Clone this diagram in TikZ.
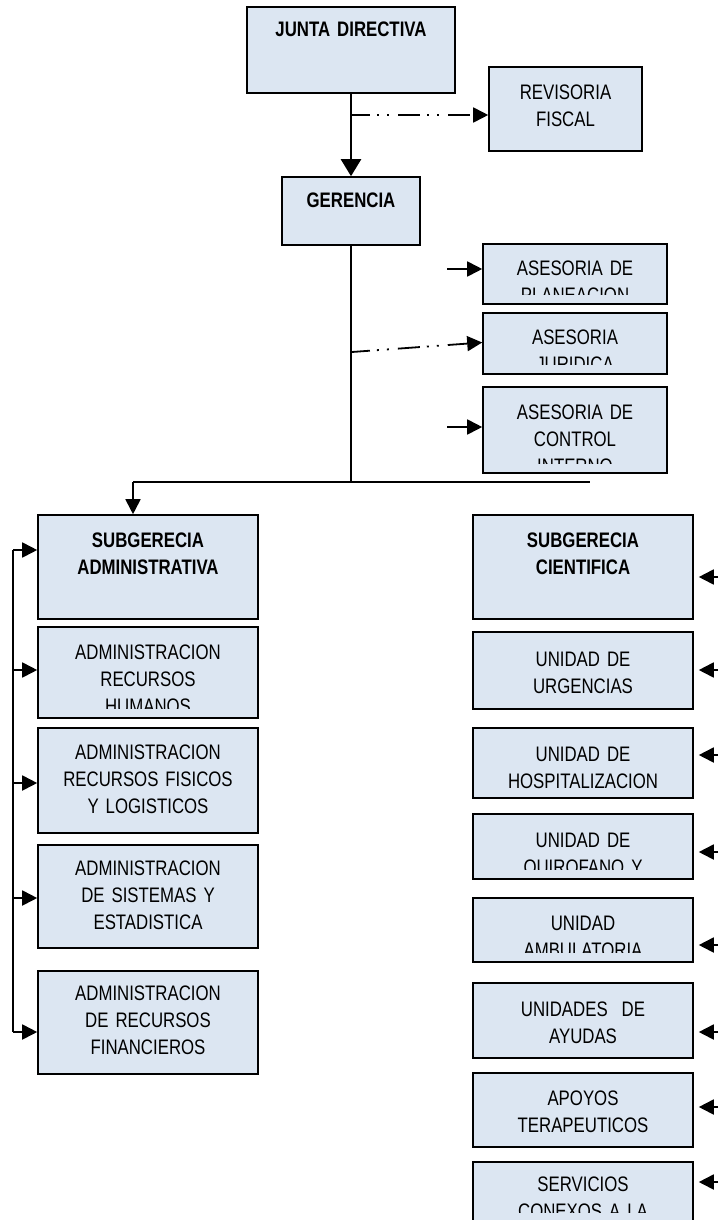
\documentclass[tikz,border=0pt]{standalone}
\usepackage{fontspec}
\setmainfont[FakeStretch=0.8]{Liberation Sans}
\usetikzlibrary{arrows.meta}
\definecolor{boxfill}{RGB}{220,230,242}

\tikzset{
  unit/.style={draw, fill=boxfill, line width=1.6pt, inner sep=0pt},
  lbl/.style={draw=none, fill=none, minimum width=0pt, minimum height=0pt,
    text width=210pt, align=center, anchor=base, inner sep=0pt,
    font=\fontsize{21}{27}\selectfont},
  txt/.style 2 args={path picture={
    \clip ([yshift=10pt]path picture bounding box.south west) rectangle (path picture bounding box.north east);
    \node[lbl] at ([yshift=-#1pt]path picture bounding box.north) {#2};}},
  link/.style={line width=1.8pt, -{Triangle[length=15pt,width=15pt]}},
  dashdotdot/.style={dash pattern=on 22pt off 7pt on 2pt off 8pt on 2pt off 9pt, dash phase=4pt},
}

\begin{document}
\begin{tikzpicture}[x=1pt, y=-1pt]
\useasboundingbox (0,0) rectangle (718,1220);

% direccion
\node[unit, minimum width=208, minimum height=86, txt={30}{\textbf{JUNTA DIRECTIVA}}] (junta) at (351,50) {};
\node[unit, minimum width=153, minimum height=84, txt={32.5}{REVISORIA\\FISCAL}] (revisoria) at (565.5,109) {};
\node[unit, minimum width=138, minimum height=68, txt={30.5}{\textbf{GERENCIA}}] (gerencia) at (351,211) {};

% asesorias
\node[unit, minimum width=184, minimum height=60, txt={31.5}{ASESORIA DE\\PLANEACION}] (planeacion) at (575,274) {};
\node[unit, minimum width=184, minimum height=61, txt={31.5}{ASESORIA\\JURIDICA}] (juridica) at (575,343.5) {};
\node[unit, minimum width=184, minimum height=86, txt={32.5}{ASESORIA DE\\CONTROL\\INTERNO}] (control) at (575,430) {};

% subgerencia administrativa
\node[unit, minimum width=220, minimum height=104, txt={32.5}{\bfseries SUBGERECIA\\ADMINISTRATIVA}] (subadm) at (148,567) {};
\node[unit, minimum width=220, minimum height=91, txt={32.5}{ADMINISTRACION\\RECURSOS\\HUMANOS}] (humanos) at (148,672.5) {};
\node[unit, minimum width=220, minimum height=105, txt={31}{ADMINISTRACION\\RECURSOS FISICOS\\Y LOGISTICOS}] (fisicos) at (148,780.5) {};
\node[unit, minimum width=220, minimum height=103, txt={30}{ADMINISTRACION\\DE SISTEMAS Y\\ESTADISTICA}] (sistemas) at (148,896.5) {};
\node[unit, minimum width=220, minimum height=103, txt={29}{ADMINISTRACION\\DE RECURSOS\\FINANCIEROS}] (financieros) at (148,1022.5) {};

% subgerencia cientifica
\node[unit, minimum width=220, minimum height=104, txt={32.5}{\bfseries SUBGERECIA\\CIENTIFICA}] (subcie) at (583,567) {};
\node[unit, minimum width=220, minimum height=77, txt={34.5}{UNIDAD DE\\URGENCIAS}] (urgencias) at (583,670.5) {};
\node[unit, minimum width=220, minimum height=70, txt={33.7}{UNIDAD DE\\HOSPITALIZACION}] (hosp) at (583,763) {};
\node[unit, minimum width=220, minimum height=65, txt={33}{UNIDAD DE\\QUIROFANO Y}] (quirofano) at (583,846.5) {};
\node[unit, minimum width=220, minimum height=64, txt={32}{UNIDAD\\AMBULATORIA}] (ambulatoria) at (583,930) {};
\node[unit, minimum width=220, minimum height=75, txt={33.7}{UNIDADES~~DE\\AYUDAS}] (ayudas) at (583,1020.5) {};
\node[unit, minimum width=220, minimum height=74, txt={32}{APOYOS\\TERAPEUTICOS}] (apoyos) at (583,1110) {};
\node[unit, minimum width=220, minimum height=60, txt={29.7}{SERVICIOS\\CONEXOS A LA}] (servicios) at (583,1192) {};

% lineas de mando
\coordinate (jb) at (352,115);
\coordinate (gb) at (352,352);
\coordinate (hub) at (351,482);
\coordinate (hl) at (133,482);
\coordinate (hr) at (590,482);
\coordinate (pl) at (447,269);
\coordinate (ci) at (447,427);

\draw[line width=2.4pt, -{Triangle[length=17pt,width=20pt]}] (junta.south) -- (gerencia.north);
\draw[link, dashdotdot] (jb) -- (jb -| revisoria.west);
\draw[line width=1.8pt] (gerencia.south) -- (hub);
\draw[link, dashdotdot] (gb) -- ([yshift=1pt]juridica.west);
\draw[link] (pl) -- (pl -| planeacion.west);
\draw[link] (ci) -- (ci -| control.west);
\draw[line width=1.8pt] (hl) -- (hr);
\draw[link] (hl) -- (hl |- subadm.north);

% barra izquierda
\coordinate (bt) at (13,550);
\coordinate (bb) at (13,1032);
\draw[line width=1.8pt] (bt) -- (bb);
\foreach \n/\y in {subadm/550, humanos/670, fisicos/783, sistemas/898, financieros/1032}
   \draw[link] (13,\y) -- (\n.west |- 0,\y);

% flechas derecha
\foreach \n/\y in {subcie/577, urgencias/670, hosp/755, quirofano/852, ambulatoria/945, ayudas/1032, apoyos/1107, servicios/1182}
   \draw[link, shorten >=5pt] (718,\y) -- (\n.east |- 0,\y);
\end{tikzpicture}
\end{document}
